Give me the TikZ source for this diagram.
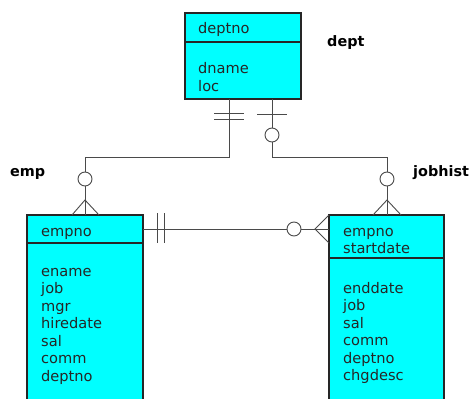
\documentclass[tikz,border=0pt]{standalone}
\usepackage{fontspec}
\setmainfont{DejaVu Sans}
\definecolor{boxfill}{HTML}{00FFFF}
\definecolor{edge}{HTML}{262626}
\definecolor{wire}{HTML}{4A4A4A}
\begin{document}
\begin{tikzpicture}[x=1pt,y=-1pt,
  box/.style={draw=edge,fill=boxfill,line width=1.2pt,inner sep=0pt,outer sep=0pt,anchor=north west},
  txt/.style={anchor=base west,inner sep=0pt,font=\fontsize{14.6}{17.5}\selectfont,text=black!85},
  lbl/.style={anchor=west,inner sep=0pt,font=\fontsize{14.4}{17}\selectfont\bfseries},
  conn/.style={draw=wire,line width=0.9pt},
  ring/.style={draw=wire,line width=0.9pt,fill=white}]
\useasboundingbox (0,0) rectangle (474,399);
\clip (0,0) rectangle (474,399);
% boxes
\node[box,minimum width=116pt,minimum height=86pt] (dept) at (185,13) {};
\node[box,minimum width=116pt,minimum height=210pt] (emp) at (27,215) {};
\node[box,minimum width=115pt,minimum height=210pt] (jobhist) at (329,215) {};
\draw[edge,line width=1.2pt] (185,42) -- (301,42);
\draw[edge,line width=1.2pt] (27,243) -- (143,243);
\draw[edge,line width=1.2pt] (329,258) -- (444,258);
% labels
\node[lbl] (ldept) at (327,43) {dept};
\node[lbl] (lemp) at (10,174) {emp};
\node[lbl] (ljob) at (413,173) {jobhist};
% dept texts
\node[txt] (d0) at (198,33.5) {deptno};
\node[txt] (d1) at (198,73.5) {dname};
\node[txt] (d2) at (198,91) {loc};
% emp texts
\node[txt] (e0) at (41,236) {empno};
\foreach \t [count=\i] in {ename,job,mgr,hiredate,sal,comm,deptno}
  \node[txt] (e\i) at ({41},{276+17.5*(\i-1)}) {\t};
% jobhist texts
\node[txt] (j0) at (343,236) {empno};
\node[txt] (j01) at (343,253.5) {startdate};
\foreach \t [count=\i] in {enddate,job,sal,comm,deptno,chgdesc}
  \node[txt] (j\i) at ({343},{293+17.5*(\i-1)}) {\t};
% connector anchors
\coordinate (dA) at (229,99);
\coordinate (dB) at (272,99);
\coordinate (eA) at (85,215);
\coordinate (jA) at (387,215);
\coordinate (eB) at (143,229);
\coordinate (jB) at (329,229);
% dept -- emp
\draw[conn] (dA) -- ++(0,58) -| (eA);
\draw[conn] (214,113) -- (244,113);
\draw[conn] (214,119) -- (244,119);
\draw[ring] (85,179) circle (7);
\draw[conn] (72,215) -- (85,200) -- (99,215);
% dept -- jobhist
\draw[conn] (dB) -- ++(0,58) -| (jA);
\draw[conn] (257,114) -- (287,114);
\draw[ring] (272,135) circle (7);
\draw[ring] (387,179) circle (7);
\draw[conn] (373,215) -- (387,200) -- (401,215);
% emp -- jobhist
\draw[conn] (eB) -- (jB);
\draw[conn] (157,213) -- (157,243);
\draw[conn] (164,213) -- (164,243);
\draw[ring] (294,229) circle (7);
\draw[conn] (329,215) -- (315,229) -- (329,243);
\end{tikzpicture}
\end{document}
